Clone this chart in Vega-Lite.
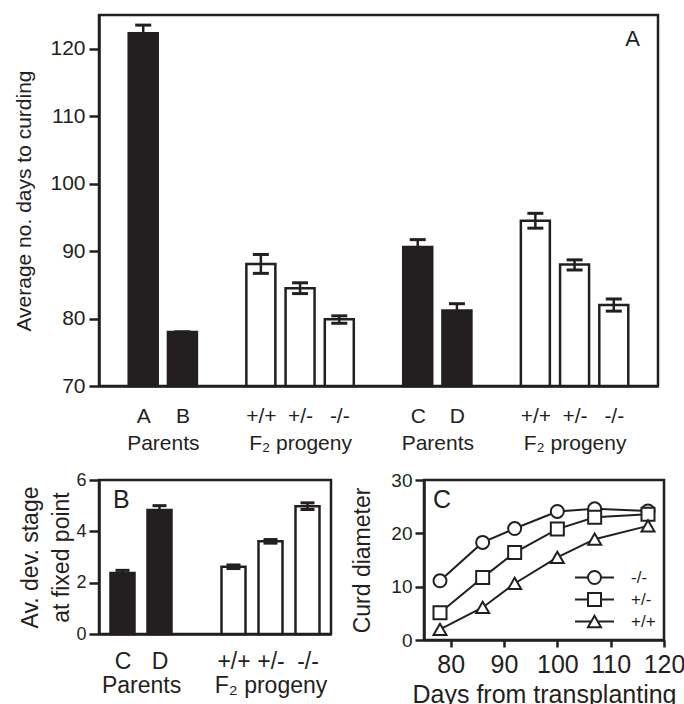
{
  "$schema": "https://vega.github.io/schema/vega-lite/v6.json",
  "padding": {"left": 12, "top": 13, "right": 0, "bottom": 0},
  "spacing": 94,
  "bounds": "flush",
  "resolve": {"scale": {"shape": "independent", "fill": "independent"}, "legend": {"shape": "independent", "fill": "independent"}},
  "config": {
    "font": "Liberation Sans",
    "view": {"stroke": "#231f20", "strokeWidth": 2.5},
    "axis": {
      "grid": false,
      "domainColor": "#231f20",
      "domainWidth": 2.5,
      "tickColor": "#231f20",
      "tickWidth": 2.5,
      "labelColor": "#231f20",
      "titleColor": "#231f20",
      "labelFont": "Liberation Sans",
      "titleFont": "Liberation Sans",
      "titleFontWeight": "normal",
      "labelFlush": false,
      "labelOverlap": false,
      "labelBound": false
    },
    "title": {"font": "Liberation Sans", "fontWeight": "normal", "color": "#231f20"}
  },
  "vconcat": [
    {
      "width": 559,
      "height": 371,
      "title": {"text": "A", "anchor": "end", "frame": "group", "orient": "top", "baseline": "top", "offset": -36, "dx": -18, "fontSize": 22},
      "data": {"values": [
        {"slot": 1, "label": "A", "kind": "parent", "mean": 122.3, "lo": 121.1, "hi": 123.5},
        {"slot": 2, "label": "B", "kind": "parent", "mean": 78.0, "lo": 78.0, "hi": 78.0},
        {"slot": 4, "label": "+/+", "kind": "f2", "mean": 88.1, "lo": 86.7, "hi": 89.5},
        {"slot": 5, "label": "+/-", "kind": "f2", "mean": 84.5, "lo": 83.7, "hi": 85.3},
        {"slot": 6, "label": "-/-", "kind": "f2", "mean": 79.9, "lo": 79.3, "hi": 80.4},
        {"slot": 8, "label": "C", "kind": "parent", "mean": 90.6, "lo": 89.5, "hi": 91.7},
        {"slot": 9, "label": "D", "kind": "parent", "mean": 81.2, "lo": 80.2, "hi": 82.2},
        {"slot": 11, "label": "+/+", "kind": "f2", "mean": 94.5, "lo": 93.4, "hi": 95.6},
        {"slot": 12, "label": "+/-", "kind": "f2", "mean": 88.0, "lo": 87.2, "hi": 88.7},
        {"slot": 13, "label": "-/-", "kind": "f2", "mean": 82.0, "lo": 81.1, "hi": 82.9}
      ]},
      "encoding": {
        "x": {"field": "slot", "type": "quantitative",
          "scale": {"domain": [0, 14], "nice": false, "zero": false},
          "axis": {
            "title": null, "ticks": false, "tickSize": 0,
            "values": [1, 1.5, 2, 4, 5, 6, 8, 8.5, 9, 11, 12, 13],
            "labelExpr": "datum.value == 1 ? 'A' : datum.value == 1.5 ? ['', 'Parents'] : datum.value == 2 ? 'B' : datum.value == 4 ? '+/+' : datum.value == 5 ? ['+/-', 'F₂ progeny'] : datum.value == 6 ? '-/-' : datum.value == 8 ? 'C' : datum.value == 8.5 ? ['', 'Parents'] : datum.value == 9 ? 'D' : datum.value == 11 ? '+/+' : datum.value == 12 ? ['+/-', 'F₂ progeny'] : '-/-'",
            "labelFontSize": 21, "labelPadding": 19, "labelLineHeight": 27, "labelBaseline": "top"
          }
        }
      },
      "layer": [
        {
          "mark": {"type": "bar", "width": 29, "stroke": "#231f20", "strokeWidth": 2.5},
          "encoding": {
            "y": {"field": "mean", "type": "quantitative",
              "scale": {"domain": [70, 125], "nice": false, "zero": false},
              "axis": {"title": "Average no. days to curding", "titleFontSize": 21, "titlePadding": 15,
                "values": [70, 80, 90, 100, 110, 120], "tickSize": 10, "labelFontSize": 21, "labelPadding": 4}},
            "y2": {"datum": 70},
            "fill": {"field": "kind", "type": "nominal", "scale": {"domain": ["parent", "f2"], "range": ["#231f20", "#ffffff"]}, "legend": null}
          }
        },
        {
          "mark": {"type": "rule", "strokeWidth": 2.5, "color": "#231f20"},
          "encoding": {"y": {"field": "lo", "type": "quantitative"}, "y2": {"field": "hi"}}
        },
        {
          "mark": {"type": "tick", "orient": "horizontal", "size": 16, "thickness": 3, "color": "#231f20", "opacity": 1},
          "encoding": {"y": {"field": "hi", "type": "quantitative"}}
        },
        {
          "mark": {"type": "tick", "orient": "horizontal", "size": 16, "thickness": 3, "color": "#231f20", "opacity": 1},
          "encoding": {"y": {"field": "lo", "type": "quantitative"}}
        }
      ]
    },
    {
      "spacing": 93,
      "bounds": "flush",
      "resolve": {"scale": {"shape": "independent", "fill": "independent"}, "legend": {"shape": "independent", "fill": "independent"}},
      "hconcat": [
        {
          "width": 232,
          "height": 154,
          "title": {"text": "B", "anchor": "start", "frame": "group", "orient": "top", "baseline": "top", "offset": -42, "dx": 14, "fontSize": 25},
          "data": {"values": [
            {"slot": 1, "label": "C", "kind": "parent", "mean": 2.38, "lo": 2.28, "hi": 2.48},
            {"slot": 2, "label": "D", "kind": "parent", "mean": 4.83, "lo": 4.66, "hi": 5.0},
            {"slot": 4, "label": "+/+", "kind": "f2", "mean": 2.62, "lo": 2.55, "hi": 2.69},
            {"slot": 5, "label": "+/-", "kind": "f2", "mean": 3.61, "lo": 3.54, "hi": 3.68},
            {"slot": 6, "label": "-/-", "kind": "f2", "mean": 4.98, "lo": 4.85, "hi": 5.11}
          ]},
          "encoding": {
            "x": {"field": "slot", "type": "quantitative",
              "scale": {"domain": [0.5, 6.5], "nice": false, "zero": false},
              "axis": {
                "title": null, "ticks": false, "tickSize": 0,
                "values": [1, 1.5, 2, 4, 5, 6],
                "labelExpr": "datum.value == 1 ? 'C' : datum.value == 1.5 ? ['', 'Parents'] : datum.value == 2 ? 'D' : datum.value == 4 ? '+/+' : datum.value == 5 ? ['+/-', 'F₂ progeny'] : '-/-'",
                "labelFontSize": 23, "labelPadding": 16, "labelLineHeight": 24, "labelBaseline": "top"
              }
            }
          },
          "layer": [
            {
              "mark": {"type": "bar", "width": 24, "stroke": "#231f20", "strokeWidth": 2.5},
              "encoding": {
                "y": {"field": "mean", "type": "quantitative",
                  "scale": {"domain": [0, 6], "nice": false},
                  "axis": {"title": ["Av. dev. stage", "at fixed point"], "titleFontSize": 23, "titleLineHeight": 31, "titlePadding": 2,
                    "values": [0, 2, 4, 6], "tickSize": 10, "labelFontSize": 18, "labelPadding": 3}},
                "y2": {"datum": 0},
                "fill": {"field": "kind", "type": "nominal", "scale": {"domain": ["parent", "f2"], "range": ["#231f20", "#ffffff"]}, "legend": null}
              }
            },
            {
              "mark": {"type": "rule", "strokeWidth": 2.5, "color": "#231f20"},
              "encoding": {"y": {"field": "lo", "type": "quantitative"}, "y2": {"field": "hi"}}
            },
            {
              "mark": {"type": "tick", "orient": "horizontal", "size": 14, "thickness": 3, "color": "#231f20", "opacity": 1},
              "encoding": {"y": {"field": "hi", "type": "quantitative"}}
            },
            {
              "mark": {"type": "tick", "orient": "horizontal", "size": 14, "thickness": 3, "color": "#231f20", "opacity": 1},
              "encoding": {"y": {"field": "lo", "type": "quantitative"}}
            }
          ]
        },
        {
          "width": 240,
          "height": 160,
          "title": {"text": "C", "anchor": "start", "frame": "group", "orient": "top", "baseline": "top", "offset": -42, "dx": 9, "fontSize": 25},
          "resolve": {"scale": {"shape": "independent"}, "legend": {"shape": "independent"}},
          "data": {"values": [
            {"series": "-/-", "days": 78, "diameter": 11.1},
            {"series": "-/-", "days": 86, "diameter": 18.3},
            {"series": "-/-", "days": 92, "diameter": 20.9},
            {"series": "-/-", "days": 100, "diameter": 24.1},
            {"series": "-/-", "days": 107, "diameter": 24.6},
            {"series": "-/-", "days": 117, "diameter": 24.2},
            {"series": "+/-", "days": 78, "diameter": 5.1},
            {"series": "+/-", "days": 86, "diameter": 11.7},
            {"series": "+/-", "days": 92, "diameter": 16.4},
            {"series": "+/-", "days": 100, "diameter": 20.8},
            {"series": "+/-", "days": 107, "diameter": 23.0},
            {"series": "+/-", "days": 117, "diameter": 23.6},
            {"series": "+/+", "days": 78, "diameter": 2.0},
            {"series": "+/+", "days": 86, "diameter": 6.1},
            {"series": "+/+", "days": 92, "diameter": 10.6},
            {"series": "+/+", "days": 100, "diameter": 15.5},
            {"series": "+/+", "days": 107, "diameter": 18.9},
            {"series": "+/+", "days": 117, "diameter": 21.4}
          ]},
          "encoding": {
            "x": {"field": "days", "type": "quantitative",
              "scale": {"domain": [75, 120], "nice": false, "zero": false},
              "axis": {"title": "Days from transplanting", "titleFontSize": 25, "titlePadding": 5,
                "values": [80, 90, 100, 110, 120], "tickSize": 7, "labelFontSize": 25, "labelPadding": 5}},
            "y": {"field": "diameter", "type": "quantitative",
              "scale": {"domain": [0, 30], "nice": false},
              "axis": {"title": "Curd diameter", "titleFontSize": 23, "titlePadding": 16,
                "values": [0, 10, 20, 30], "tickSize": 9, "labelFontSize": 19, "labelPadding": 3}}
          },
          "layer": [
            {
              "mark": {"type": "line", "strokeWidth": 2, "color": "#231f20"},
              "encoding": {"detail": {"field": "series", "type": "nominal"}}
            },
            {
              "mark": {"type": "point", "filled": true, "fill": "#ffffff", "stroke": "#231f20", "strokeWidth": 2, "size": 169, "opacity": 1},
              "encoding": {
                "shape": {"field": "series", "type": "nominal",
                  "scale": {"domain": ["-/-", "+/-", "+/+"], "range": ["circle", "square", "triangle-up"]},
                  "legend": null
                }
              }
            },
            {
              "mark": {"type": "point", "filled": false, "color": "#231f20", "strokeWidth": 2, "size": 169, "opacity": 0},
              "encoding": {
                "shape": {"field": "series", "type": "nominal",
                  "scale": {"domain": ["-/-", "+/-", "+/+"], "range": [
                    "M-3,0H-1M1,0A1,1 0 1,1 -1,0A1,1 0 1,1 1,0ZM1,0H3",
                    "M-3,0H-1M-1,-1H1V1H-1ZM1,0H3",
                    "M-3,0H-0.5M0,-0.866L1,0.866L-1,0.866ZM0.5,0H3"
                  ]},
                  "legend": {
                    "title": null, "orient": "bottom-right", "offset": 8,
                    "labelFontSize": 17, "labelColor": "#231f20",
                    "symbolOpacity": 1, "symbolSize": 169, "symbolStrokeWidth": 2,
                    "labelOffset": 28, "rowPadding": 1
                  }
                }
              }
            }
          ]
        }
      ]
    }
  ]
}
